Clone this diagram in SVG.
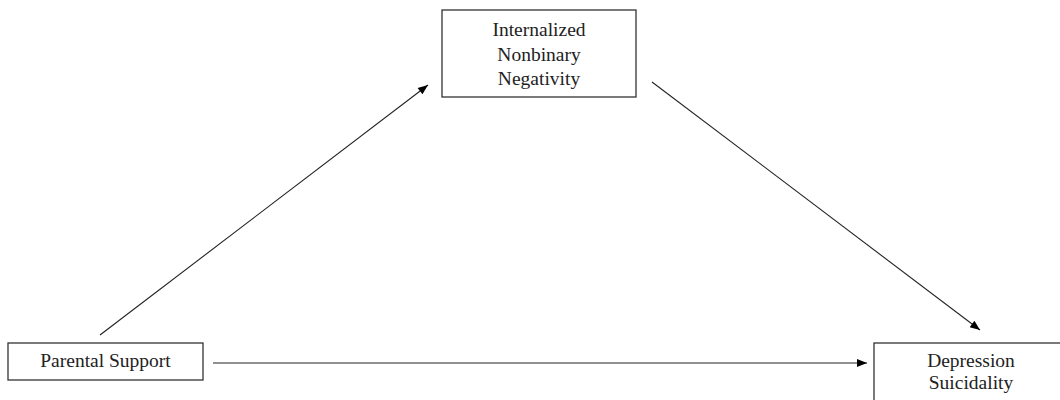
<svg xmlns="http://www.w3.org/2000/svg" width="1060" height="400" viewBox="0 0 1060 400">
<style>
.box{fill:#fff;stroke:#333;stroke-width:1.3}
.lbl{font-family:"Liberation Serif","Times New Roman",serif;font-size:19.5px;fill:#222;text-anchor:middle}
.conn{stroke:#222;stroke-width:1.1;fill:none;marker-end:url(#ah)}
</style>
<defs>
<marker id="ah" viewBox="0 0 10 8" refX="10" refY="4" markerWidth="11" markerHeight="8" markerUnits="userSpaceOnUse" orient="auto">
<path d="M0,0 L10,4 L0,8 Z" fill="#000"/>
</marker>
</defs>
<rect width="1060" height="400" fill="#fff"/>
<g id="connectors">
<line class="conn" x1="100" y1="335" x2="428" y2="85"/>
<line class="conn" x1="652" y1="82" x2="980" y2="330"/>
<line class="conn" x1="213" y1="363" x2="867" y2="363"/>
</g>
<g id="node-inn">
<rect class="box" x="442" y="10" width="194" height="87"/>
<text class="lbl" x="539" y="36">Internalized</text>
<text class="lbl" x="539" y="60.5">Nonbinary</text>
<text class="lbl" x="539" y="85">Negativity</text>
</g>
<g id="node-ps">
<rect class="box" x="8" y="343" width="195" height="37"/>
<text class="lbl" x="105.5" y="367">Parental Support</text>
</g>
<g id="node-ds">
<rect class="box" x="874" y="343" width="220" height="70"/>
<text class="lbl" x="971" y="366.5">Depression</text>
<text class="lbl" x="971" y="389">Suicidality</text>
</g>
</svg>
